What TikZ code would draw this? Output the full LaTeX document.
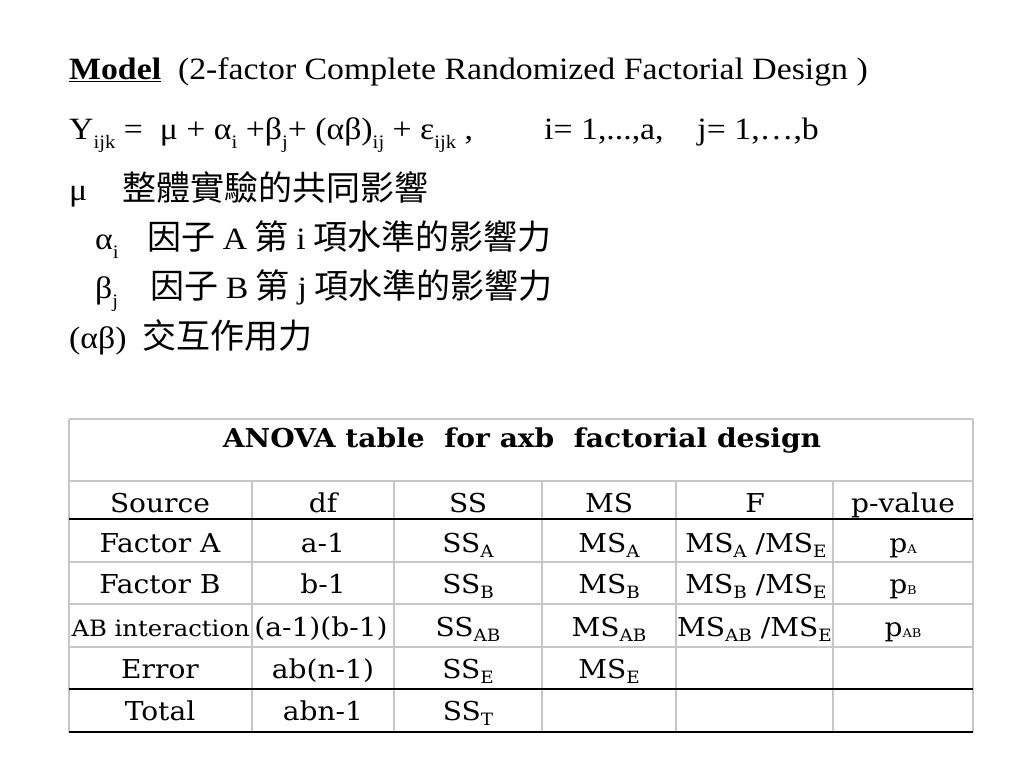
\documentclass[tikz,border=0pt]{standalone}
\usepackage{fontspec}
\setmainfont[FakeStretch=1.09]{Liberation Serif}
\newfontfamily\cjkfont{Noto Sans CJK TC}
\newfontfamily\tabfont[FakeStretch=1.08]{DejaVu Serif}
\newcommand{\lowidx}[1]{\raisebox{-9pt}{\fontsize{19}{19}\selectfont #1}}
\newcommand{\tsub}[1]{\raisebox{-5pt}{\fontsize{17}{17}\selectfont #1}}
\newcommand{\psub}[1]{\raisebox{-1pt}{\fontsize{12}{12}\selectfont #1}}

\tikzset{
  txt/.style={anchor=base west, inner sep=0pt, font=\fontsize{31}{36}\selectfont},
  han/.style={anchor=base west, inner sep=0pt, font=\cjkfont\fontsize{34}{38}\selectfont},
  cell/.style={anchor=base, inner sep=0pt, font=\tabfont\fontsize{26}{30}\selectfont},
  grayline/.style={draw=black!22, line width=2pt},
  blackline/.style={draw=black, line width=2.5pt}
}

\begin{document}
\begin{tikzpicture}[x=1pt, y=-1pt]
        \useasboundingbox (0,0) rectangle (1024,768);

        % Model
        \node[txt] (model) at (69, 79) {\underline{\textbf{Model}}\ \ (2-factor Complete Randomized Factorial Design )};
        \node[txt] (eq) at (69, 139) {Y\lowidx{ijk} =\ \ μ + α\lowidx{i} +β\lowidx{j}+ (αβ)\lowidx{ij} + ε\lowidx{ijk} ,};
        \node[txt] (range) at (544, 139) {i= 1,...,a,\ \ \ \ j= 1,…,b};

        % Meaning of the terms
        \node[txt] (mu) at (69, 200) {μ};
        \node[han] (muT) at (122, 200) {整體實驗的共同影響};
        \node[txt] (al) at (95, 249) {α\lowidx{i}};
        \node[han] (alT) at (147, 249) {因子 {\rmfamily\fontsize{31}{36}\selectfont A} 第 {\rmfamily\fontsize{31}{36}\selectfont i} 項水準的影響力};
        \node[txt] (be) at (95, 298) {β\lowidx{j}};
        \node[han] (beT) at (150, 298) {因子 {\rmfamily\fontsize{31}{36}\selectfont B} 第 {\rmfamily\fontsize{31}{36}\selectfont j} 項水準的影響力};
        \node[txt] (ab) at (69, 348) {(αβ)};
        \node[han] (abT) at (142, 348) {交互作用力};

        % Table lines
        \draw[grayline] (69, 419) -- (973, 419);
        \draw[grayline] (69, 481) -- (973, 481);
        \draw[grayline] (69, 562) -- (973, 562);
        \draw[grayline] (69, 604) -- (973, 604);
        \draw[grayline] (69, 647) -- (973, 647);
        \draw[grayline] (69, 419) -- (69, 732);
        \draw[grayline] (973, 419) -- (973, 732);
        \draw[grayline] (252, 481) -- (252, 732);
        \draw[grayline] (394, 481) -- (394, 732);
        \draw[grayline] (542, 481) -- (542, 732);
        \draw[grayline] (676, 481) -- (676, 732);
        \draw[grayline] (833, 481) -- (833, 732);
        \draw[blackline] (69, 519) -- (973, 519);
        \draw[blackline] (69, 689) -- (973, 689);
        \draw[blackline] (69, 732) -- (973, 732);

        % Title
        \node[cell, font=\tabfont\bfseries\fontsize{26}{30}\selectfont] (title) at (522, 447) {ANOVA table\ \ for axb\ \ factorial design};

        % Header
        \node[cell] (hSrc) at (160, 512) {Source};
        \node[cell] (hDf) at (323, 512) {df};
        \node[cell] (hSS) at (468, 512) {SS};
        \node[cell] (hMS) at (609, 512) {MS};
        \node[cell] (hF) at (755, 512) {F};
        \node[cell] (hP) at (903, 512) {p-value};

        % Factor A
        \node[cell] (aSrc) at (160, 552) {Factor A};
        \node[cell] (aDf) at (323, 552) {a-1};
        \node[cell] (aSS) at (468, 552) {SS\tsub{A}};
        \node[cell] (aMS) at (609, 552) {MS\tsub{A}};
        \node[cell] (aF) at (756, 552) {MS\tsub{A} /MS\tsub{E}};
        \node[cell] (aP) at (903, 552) {p\psub{A}};

        % Factor B
        \node[cell] (bSrc) at (160, 593) {Factor B};
        \node[cell] (bDf) at (323, 593) {b-1};
        \node[cell] (bSS) at (468, 593) {SS\tsub{B}};
        \node[cell] (bMS) at (609, 593) {MS\tsub{B}};
        \node[cell] (bF) at (756, 593) {MS\tsub{B} /MS\tsub{E}};
        \node[cell] (bP) at (903, 593) {p\psub{B}};

        % AB interaction
        \node[cell, anchor=base east, font=\tabfont\fontsize{22.5}{26}\selectfont] (abSrc) at (250, 636) {AB interaction};
        \node[cell] (abDf) at (321, 636) {(a-1)(b-1)};
        \node[cell] (abSS) at (468, 636) {SS\tsub{AB}};
        \node[cell] (abMS) at (609, 636) {MS\tsub{AB}};
        \begin{scope}
          \clip (676, 647) rectangle (832, 604);
          \node[cell, anchor=base west] (abF) at (677, 636) {MS\tsub{AB} /MS\tsub{E}};
        \end{scope}
        \node[cell] (abP) at (903, 636) {p\psub{AB}};

        % Error
        \node[cell] (eSrc) at (160, 678) {Error};
        \node[cell] (eDf) at (323, 678) {ab(n-1)};
        \node[cell] (eSS) at (468, 678) {SS\tsub{E}};
        \node[cell] (eMS) at (609, 678) {MS\tsub{E}};

        % Total
        \node[cell] (tSrc) at (160, 720) {Total};
        \node[cell] (tDf) at (323, 720) {abn-1};
        \node[cell] (tSS) at (468, 720) {SS\tsub{T}};
    \end{tikzpicture}
\end{document}
